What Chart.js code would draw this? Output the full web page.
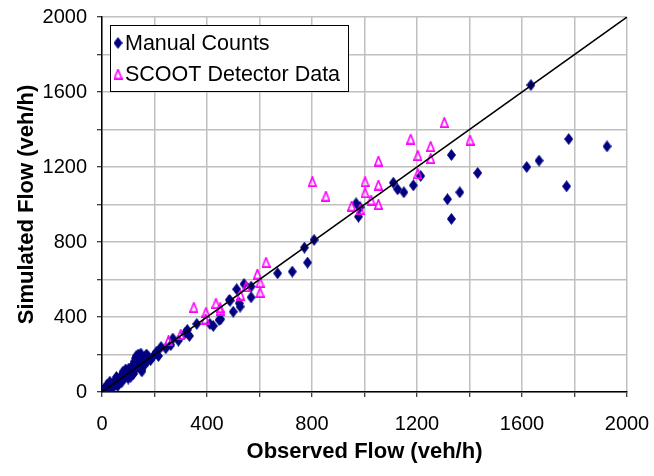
<!DOCTYPE html>
<html>
<head>
<meta charset="utf-8">
<script src="https://cdn.jsdelivr.net/npm/chart.js@4/dist/chart.umd.min.js"></script>
<style>
  html, body { margin: 0; padding: 0; background: #ffffff; }
  #wrap { width: 654px; height: 476px; position: relative; }
</style>
</head>
<body>
<div id="wrap"><canvas id="c" width="654" height="476"></canvas></div>
<script>
// ---- Data ----
const seriesNames = ['Manual Counts', 'SCOOT Detector Data'];

const manualX = [2, 5, 8, 10, 12, 15, 18, 20, 22, 25, 28, 30, 32, 35, 38, 42, 45, 48, 50, 55, 58, 60, 62, 66, 70, 72, 75, 80, 82, 85, 88, 92, 95, 96, 100, 102, 105, 108, 110, 112, 116, 120, 122, 125, 128, 130, 133, 135, 138, 140, 142, 145, 148, 150, 152, 155, 160, 165, 170,
  20, 40, 30, 60, 55, 75, 90, 110, 100, 80, 120, 145, 160, 170, 178, 185, 215, 225, 262, 270,
  196, 208, 243, 291, 316, 325, 333, 361, 411, 424, 446, 452, 485, 488, 500, 513, 523, 526, 541, 568, 568,
  669, 725, 771, 783, 808, 968, 977, 983, 1110, 1126, 1150, 1186, 1214, 1316, 1331, 1331, 1363, 1431,
  1618, 1634, 1665, 1770, 1778, 1924];
const manualY = [5, 12, 3, 18, 8, 10, 25, 15, 15, 30, 20, 22, 38, 28, 30, 48, 40, 35, 55, 45, 62, 50, 55, 70, 62, 85, 80, 72, 95, 90, 78, 100, 110, 88, 110, 125, 95, 125, 100, 130, 105, 140, 160, 115, 180, 190, 175, 165, 200, 140, 150, 180, 205, 120, 110, 135, 175, 190, 160,
  40, 22, 55, 32, 80, 52, 120, 82, 72, 108, 96, 160, 142, 200, 185, 170, 192, 240, 250, 285,
  192, 215, 233, 274, 313, 331, 299, 363, 363, 352, 384, 388, 491, 487, 428, 548, 473, 455, 576, 562, 505,
  633, 642, 770, 690, 811, 1006, 935, 985, 1116, 1081, 1065, 1102, 1152, 1028, 1264, 923, 1065, 1168,
  1200, 1637, 1234, 1097, 1349, 1310];

const scootX = [253, 300, 350, 394, 396, 434, 450, 450, 528, 549, 592, 602, 602, 625, 801, 853, 951, 983, 1002, 1002, 1025, 1053, 1053, 1053, 1176, 1203, 1203, 1252, 1252, 1304, 1402];
const scootY = [274, 308, 452, 389, 425, 473, 450, 437, 517, 562, 629, 585, 532, 692, 1122, 1045, 992, 974, 1122, 1063, 1024, 1232, 1104, 1001, 1349, 1262, 1164, 1310, 1246, 1438, 1344];

const lineX = [0, 2000];
const lineY = [0, 2000];

const tickValues = [0, 400, 800, 1200, 1600, 2000];
const axisTitles = ['Observed Flow (veh/h)', 'Simulated Flow (veh/h)'];

// ---- Marker images ----
function makeDiamond() {
  const c = document.createElement('canvas');
  c.width = 9; c.height = 12;
  const g = c.getContext('2d');
  g.fillStyle = '#000080';
  g.beginPath();
  g.moveTo(4.5, 0); g.lineTo(9, 6); g.lineTo(4.5, 12); g.lineTo(0, 6); g.closePath();
  g.fill();
  return c;
}
function makeTriangle() {
  const c = document.createElement('canvas');
  c.width = 9; c.height = 11;
  const g = c.getContext('2d');
  g.strokeStyle = '#FF00FF';
  g.lineWidth = 1.6;
  g.beginPath();
  g.moveTo(4.5, 0.9); g.lineTo(8.2, 10.1); g.lineTo(0.8, 10.1); g.closePath();
  g.stroke();
  return c;
}
const diamondImg = makeDiamond();
const triangleImg = makeTriangle();

const toPts = (xs, ys) => xs.map((x, i) => ({ x: x, y: ys[i] }));

// ---- Legend plugin (boxed legend inside plot area) ----
const boxLegend = {
  id: 'boxLegend',
  afterDraw(chart) {
    const ctx = chart.ctx;
    const left = chart.chartArea.left + 8, top = chart.chartArea.top + 8;
    const w = 238, h = 66;
    ctx.save();
    ctx.fillStyle = '#ffffff';
    ctx.fillRect(left, top, w, h);
    ctx.strokeStyle = '#000000';
    ctx.lineWidth = 1;
    ctx.strokeRect(left + 0.5, top + 0.5, w, h);
    ctx.drawImage(diamondImg, left + 8 - 4.5, top + 18 - 6);
    ctx.drawImage(triangleImg, left + 8 - 4.5, top + 49 - 5.5);
    ctx.fillStyle = '#000000';
    ctx.font = '21.5px "Liberation Sans", Arial, sans-serif';
    ctx.textBaseline = 'middle';
    ctx.textAlign = 'left';
    ctx.fillText(seriesNames[0], left + 15, top + 19);
    ctx.fillText(seriesNames[1], left + 15, top + 50);
    ctx.restore();
  }
};

const tickFont = { family: '"Liberation Sans", Arial, sans-serif', size: 20 };
const titleFont = { family: '"Liberation Sans", Arial, sans-serif', size: 22, weight: 'bold' };

function zeroPad(s) { s.paddingLeft = 0; s.paddingRight = 0; s.paddingTop = 0; s.paddingBottom = 0; }

new Chart(document.getElementById('c'), {
  type: 'scatter',
  data: {
    datasets: [
      {
        type: 'line',
        label: 'y = x',
        data: toPts(lineX, lineY),
        borderColor: '#000000',
        borderWidth: 1.5,
        pointRadius: 0,
        fill: false,
        order: 0
      },
      {
        label: seriesNames[1],
        data: toPts(scootX, scootY),
        pointStyle: triangleImg,
        order: 1
      },
      {
        label: seriesNames[0],
        data: toPts(manualX, manualY),
        pointStyle: diamondImg,
        order: 2
      }
    ]
  },
  options: {
    responsive: false,
    animation: false,
    devicePixelRatio: 1,
    layout: { padding: { top: 17, right: 27, left: 0, bottom: 0 } },
    plugins: {
      legend: { display: false },
      tooltip: { enabled: false }
    },
    scales: {
      x: {
        type: 'linear',
        min: 0, max: 2000,
        afterFit(s) { s.height = 84; zeroPad(s); },
        afterBuildTicks(s) {
          s.ticks = [];
          for (let v = 0; v <= 2000; v += 200) s.ticks.push({ value: v });
        },
        ticks: {
          font: tickFont,
          color: '#000000',
          padding: 15,
          maxRotation: 0,
          autoSkip: false,
          callback: (v) => tickValues.includes(v) ? String(v) : ''
        },
        grid: { color: '#c0c0c0', lineWidth: 1.5, tickColor: '#000000', tickLength: 5, tickWidth: 1 },
        border: { color: '#000000', width: 1.5 },
        title: { display: true, text: axisTitles[0], font: titleFont, color: '#000000', padding: { top: 0, bottom: 11 } }
      },
      y: {
        type: 'linear',
        min: 0, max: 2000,
        afterFit(s) { s.width = 102; zeroPad(s); },
        afterBuildTicks(s) {
          s.ticks = [];
          for (let v = 0; v <= 2000; v += 200) s.ticks.push({ value: v });
        },
        ticks: {
          font: tickFont,
          color: '#000000',
          padding: 10,
          autoSkip: false,
          callback: (v) => tickValues.includes(v) ? String(v) : ''
        },
        grid: { color: '#c0c0c0', lineWidth: 1.5, tickColor: '#000000', tickLength: 5, tickWidth: 1 },
        border: { color: '#000000', width: 1.5 },
        title: { display: true, text: axisTitles[1], font: titleFont, color: '#000000', padding: { top: 14, bottom: 0 } }
      }
    }
  },
  plugins: [boxLegend]
});
</script>
</body>
</html>
